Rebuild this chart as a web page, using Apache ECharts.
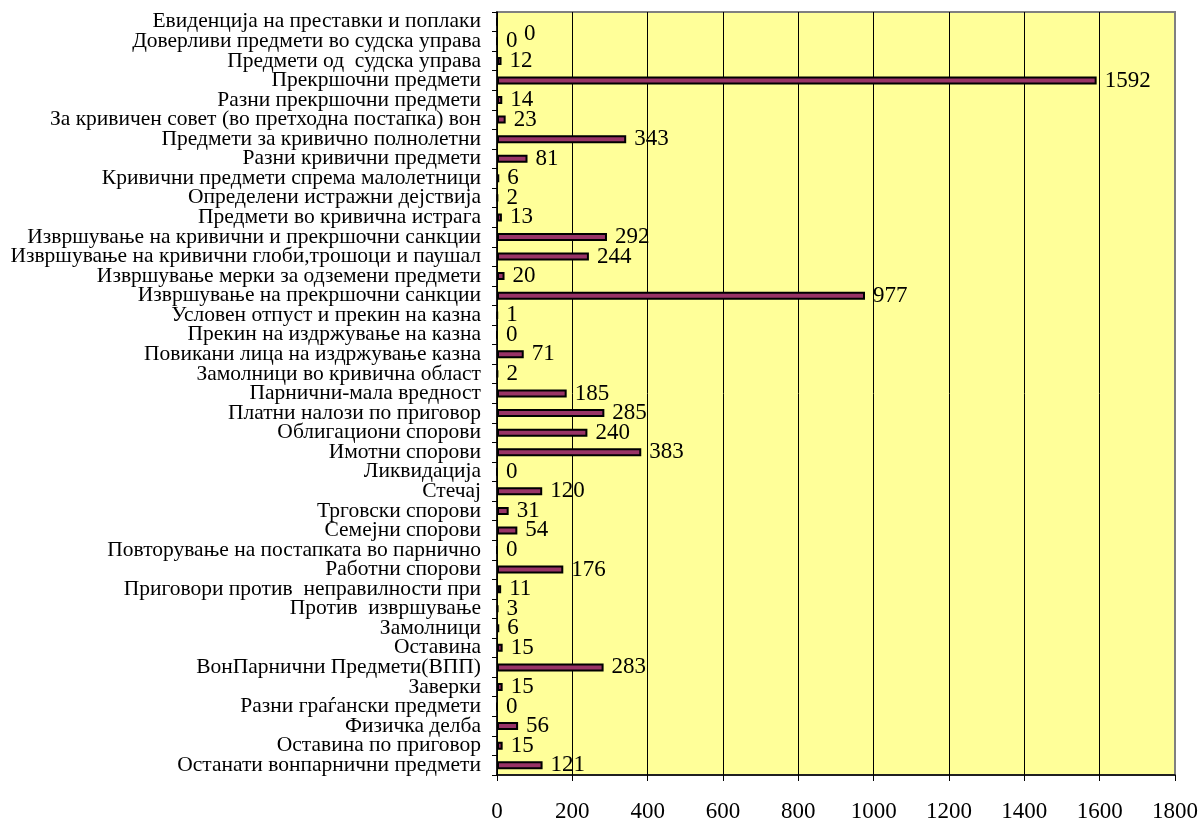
<!DOCTYPE html>
<html>
<head>
<meta charset="utf-8">
<script src="https://cdn.jsdelivr.net/npm/echarts@6/dist/echarts.min.js"></script>
<style>
  html, body { margin: 0; padding: 0; background: #ffffff; }
  #charts_main { width: 1201px; height: 823px; }
</style>
</head>
<body>
<div id="charts_main"></div>
<script>
// категории од горе надолу
const categories = [
  'Евиденција на преставки и поплаки',
  'Доверливи предмети во судска управа',
  'Предмети од  судска управа',
  'Прекршочни предмети',
  'Разни прекршочни предмети',
  'За кривичен совет (во претходна постапка) вон',
  'Предмети за кривично полнолетни',
  'Разни кривични предмети',
  'Кривични предмети спрема малолетници',
  'Определени истражни дејствија',
  'Предмети во кривична истрага',
  'Извршување на кривични и прекршочни санкции',
  'Извршување на кривични глоби,трошоци и паушал',
  'Извршување мерки за одземени предмети',
  'Извршување на прекршочни санкции',
  'Условен отпуст и прекин на казна',
  'Прекин на издржување на казна',
  'Повикани лица на издржување казна',
  'Замолници во кривична област',
  'Парнични-мала вредност',
  'Платни налози по приговор',
  'Облигациони спорови',
  'Имотни спорови',
  'Ликвидација',
  'Стечај',
  'Трговски спорови',
  'Семејни спорови',
  'Повторување на постапката во парнично',
  'Работни спорови',
  'Приговори против  неправилности при',
  'Против  извршување',
  'Замолници',
  'Оставина',
  'ВонПарнични Предмети(ВПП)',
  'Заверки',
  'Разни граѓански предмети',
  'Физичка делба',
  'Оставина по приговор',
  'Останати вонпарнични предмети'
];

const values = [
  0, 0, 12, 1592, 14, 23, 343, 81, 6, 2,
  13, 292, 244, 20, 977, 1, 0, 71, 2, 185,
  285, 240, 383, 0, 120, 31, 54, 0, 176, 11,
  3, 6, 15, 283, 15, 0, 56, 15, 121
];

const xTicks = [0, 200, 400, 600, 800, 1000, 1200, 1400, 1600, 1800];

const font = '"Liberation Serif", "Times New Roman", serif';

const Chart = echarts.init(document.getElementById('charts_main'));

// првата ознака во Excel е поместена десно-надолу
const seriesData = values.map((v, i) => {
  if (i === 0) {
    return { value: v, label: { offset: [18, 12] } };
  }
  return v;
});

const chart_option = {
  animation: false,
  grid: {
    left: 497,
    right: 26,
    top: 12,
    bottom: 45,
    show: true,
    backgroundColor: '#FFFF99',
    borderColor: '#808080',
    borderWidth: 2
  },
  xAxis: {
    type: 'value',
    min: xTicks[0],
    max: xTicks[xTicks.length - 1],
    interval: 200,
    axisLine: { show: true, lineStyle: { color: '#000', width: 1.5 } },
    axisTick: { show: true, length: 6, lineStyle: { color: '#000' } },
    axisLabel: {
      color: '#000',
      fontFamily: font,
      fontSize: 23,
      margin: 25,
      formatter: (v) => String(v)
    },
    splitLine: {
      show: true,
      showMaxLine: false,
      lineStyle: { color: '#000', width: 1 }
    }
  },
  yAxis: {
    type: 'category',
    inverse: true,
    data: categories,
    axisLine: { show: true, lineStyle: { color: '#000', width: 1.5 } },
    axisTick: { show: true, length: 5, lineStyle: { color: '#000' } },
    axisLabel: {
      color: '#000',
      fontFamily: font,
      fontSize: 21.5,
      margin: 16,
      interval: 0
    }
  },
  series: [
    {
      type: 'bar',
      data: seriesData,
      barWidth: 8,
      itemStyle: {
        color: '#993366',
        borderColor: '#000',
        borderWidth: 2
      },
      label: {
        show: true,
        position: 'right',
        distance: 8,
        color: '#000',
        fontFamily: font,
        fontSize: 23
      }
    }
  ]
};

Chart.setOption(chart_option);
</script>
</body>
</html>
